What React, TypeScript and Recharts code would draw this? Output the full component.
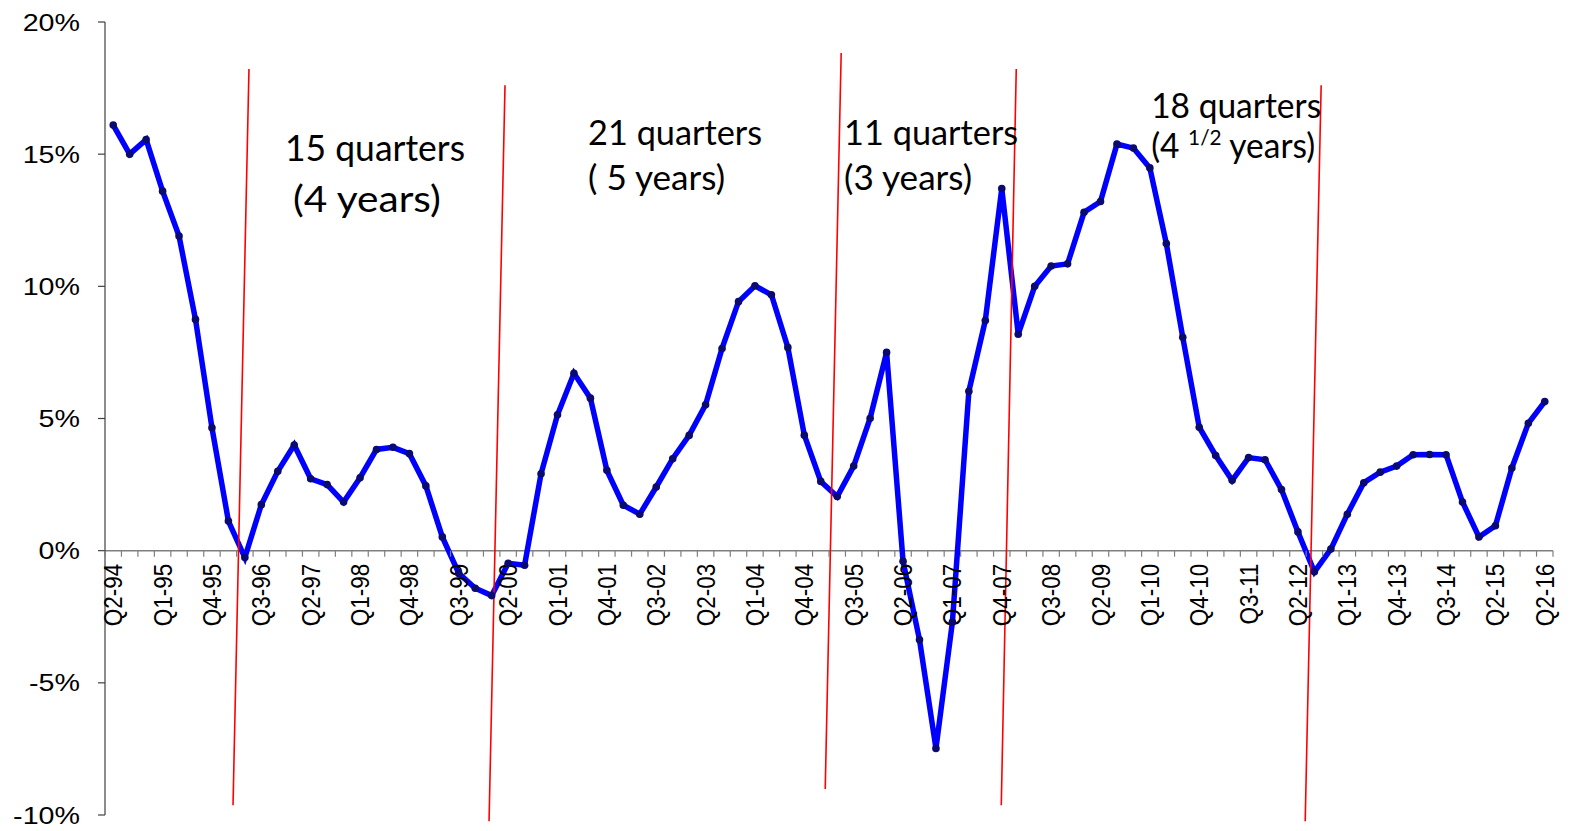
import React from "react";
import { LineChart, Line, XAxis, YAxis, ReferenceLine, ReferenceDot } from "recharts";

// quarterly labels (the source skips Q1-16, last point is labelled Q2-16)
const quarters = [
  "Q2-94", "Q3-94", "Q4-94",
  "Q1-95", "Q2-95", "Q3-95", "Q4-95",
  "Q1-96", "Q2-96", "Q3-96", "Q4-96",
  "Q1-97", "Q2-97", "Q3-97", "Q4-97",
  "Q1-98", "Q2-98", "Q3-98", "Q4-98",
  "Q1-99", "Q2-99", "Q3-99", "Q4-99",
  "Q1-00", "Q2-00", "Q3-00", "Q4-00",
  "Q1-01", "Q2-01", "Q3-01", "Q4-01",
  "Q1-02", "Q2-02", "Q3-02", "Q4-02",
  "Q1-03", "Q2-03", "Q3-03", "Q4-03",
  "Q1-04", "Q2-04", "Q3-04", "Q4-04",
  "Q1-05", "Q2-05", "Q3-05", "Q4-05",
  "Q1-06", "Q2-06", "Q3-06", "Q4-06",
  "Q1-07", "Q2-07", "Q3-07", "Q4-07",
  "Q1-08", "Q2-08", "Q3-08", "Q4-08",
  "Q1-09", "Q2-09", "Q3-09", "Q4-09",
  "Q1-10", "Q2-10", "Q3-10", "Q4-10",
  "Q1-11", "Q2-11", "Q3-11", "Q4-11",
  "Q1-12", "Q2-12", "Q3-12", "Q4-12",
  "Q1-13", "Q2-13", "Q3-13", "Q4-13",
  "Q1-14", "Q2-14", "Q3-14", "Q4-14",
  "Q1-15", "Q2-15", "Q3-15", "Q4-15",
  "Q2-16",
];

// year-over-year change, %
const growth = [
  16.1, 15.0, 15.55,
  13.6, 11.9, 8.75, 4.65,
  1.12, -0.26, 1.74, 3.0,
  4.0, 2.72, 2.5, 1.84,
  2.76, 3.83, 3.91, 3.67,
  2.45, 0.52, -0.86, -1.42,
  -1.7, -0.48, -0.55, 2.91,
  5.14, 6.71, 5.77, 3.04,
  1.72, 1.38, 2.41, 3.48,
  4.36, 5.52, 7.65, 9.42,
  10.02, 9.68, 7.69, 4.37,
  2.62, 2.05, 3.2, 5.01,
  7.5, -0.4, -3.37, -7.48,
  -2.7, 6.03, 8.71, 13.7,
  8.19, 10.0, 10.77, 10.85,
  12.8, 13.21, 15.38, 15.23,
  14.48, 11.62, 8.07, 4.67,
  3.6, 2.66, 3.52, 3.44,
  2.31, 0.71, -0.8, 0.06,
  1.38, 2.57, 2.97, 3.2,
  3.63, 3.64, 3.63, 1.84,
  0.52, 0.94, 3.13, 4.82,
  5.64,
];

const yTicks = [-10, -5, 0, 5, 10, 15, 20];
const labelStep = 3;

// hand drawn red cycle markers (index, %)
const cycleLines = [
  { x1: 8.25, y1: 18.22, x2: 7.28, y2: -9.63 },
  { x1: 23.81, y1: 17.61, x2: 22.84, y2: -10.24 },
  { x1: 44.24, y1: 18.83, x2: 43.27, y2: -9.02 },
  { x1: 54.88, y1: 18.22, x2: 53.97, y2: -9.63 },
  { x1: 73.41, y1: 17.61, x2: 72.44, y2: -10.24 },
];

// text boxes: anchor (index, %) and text
const notes = [
  { x: 10.44, y: 14.74, text: "15 quarters" },
  { x: 10.92, y: 12.81, text: "(4 years)" },
  { x: 28.86, y: 15.34, text: "21 quarters" },
  { x: 28.86, y: 13.64, text: "( 5 years)" },
  { x: 44.42, y: 15.34, text: "11 quarters" },
  { x: 44.42, y: 13.64, text: "(3 years)" },
  { x: 63.08, y: 16.36, text: "18 quarters" },
  { x: 63.08, y: 14.87, text: "(4 |1/2| years)" },
];
// rendered width of each text box line in the original (px) and font size
const noteWidths = [180, 148, 174, 137, 174, 128, 170, 164];
const noteSizes = [36, 36, 34, 34, 34, 34, 34, 34];

const data = growth.map((v, i) => ({ i, q: quarters[i], v }));
const boundaries = Array.from({ length: quarters.length + 1 }, (_, k) => k - 0.5);
const labelIdx = quarters.map((_, i) => i).filter((i) => i % labelStep === 0);

const W = 1563;
const H = 823;
const AXIS_FONT = "'Liberation Sans', Arial, sans-serif";

function YTick({ x, y, payload }: any) {
  return (
    <text
      transform={`translate(${x},${y}) scale(1.17,1)`}
      textAnchor="end"
      dy="0.35em"
      fontSize={24.5}
      fontFamily={AXIS_FONT}
      fill="#000"
    >
      {payload.value}%
    </text>
  );
}

function noteText(text: string, size: number) {
  if (!text.includes("|")) return text;
  const [a, sup, b] = text.split("|");
  return [
    <tspan key="a">{a}</tspan>,
    <tspan key="s" fontSize={size * 0.62} dy={-size * 0.38}>{sup}</tspan>,
    <tspan key="b" dy={size * 0.38}>{b}</tspan>,
  ];
}

export default function App() {
  return (
    <div style={{ width: W, height: H, background: "#fff" }}>
      <LineChart width={W} height={H} data={data} margin={{ top: 14, right: 18, bottom: 16, left: 0 }}>
        <XAxis type="number" dataKey="i" domain={[-0.5, quarters.length - 0.5]} allowDataOverflow hide />
        <YAxis
          domain={[-10, 20]}
          ticks={yTicks}
          allowDataOverflow
          width={97}
          interval={0}
          tickSize={7}
          tickMargin={18}
          tick={<YTick />}
          axisLine={{ stroke: "#404040", strokeWidth: 1.2 }}
          tickLine={{ stroke: "#404040", strokeWidth: 1.2 }}
        />
        <ReferenceLine y={0} stroke="#7f7f7f" strokeWidth={1.5} />
        {boundaries.map((b) => (
          <ReferenceDot
            key={"t" + b}
            x={b}
            y={0}
            ifOverflow="visible"
            shape={(p: any) => (
              <line x1={p.cx} x2={p.cx} y1={p.cy} y2={p.cy + 6} stroke="#7f7f7f" strokeWidth={1.2} />
            )}
          />
        ))}
        {labelIdx.map((i) => (
          <ReferenceDot
            key={"l" + i}
            x={i}
            y={0}
            ifOverflow="visible"
            shape={(p: any) => (
              <text
                transform={`translate(${p.cx},${p.cy + 13}) rotate(-90) scale(1,1.12)`}
                textAnchor="end"
                dy="0.36em"
                fontSize={22.5}
                fontFamily={AXIS_FONT}
                fill="#000"
              >
                {quarters[i]}
              </text>
            )}
          />
        ))}
        {notes.map((n, k) => (
          <ReferenceDot
            key={n.text}
            x={n.x}
            y={n.y}
            ifOverflow="visible"
            shape={(p: any) => (
              <text
                x={p.cx}
                y={p.cy}
                fontSize={noteSizes[k]}
                textLength={noteWidths[k]}
                lengthAdjust="spacingAndGlyphs"
                fontFamily="Lato, 'Open Sans', sans-serif"
                fill="#000"
              >
                {noteText(n.text, noteSizes[k])}
              </text>
            )}
          />
        ))}
        <Line
          type="linear"
          dataKey="v"
          stroke="#0000ff"
          strokeWidth={5.5}
          dot={{ r: 3.8, fill: "#0a0a70", stroke: "#0a0a70", strokeWidth: 0 }}
          activeDot={false}
          isAnimationActive={false}
        />
        {cycleLines.map((c, k) => (
          <ReferenceLine
            key={"c" + k}
            segment={[{ x: c.x1, y: c.y1 }, { x: c.x2, y: c.y2 }]}
            stroke="#ff0000"
            strokeWidth={1.6}
            ifOverflow="visible"
          />
        ))}
      </LineChart>
    </div>
  );
}
